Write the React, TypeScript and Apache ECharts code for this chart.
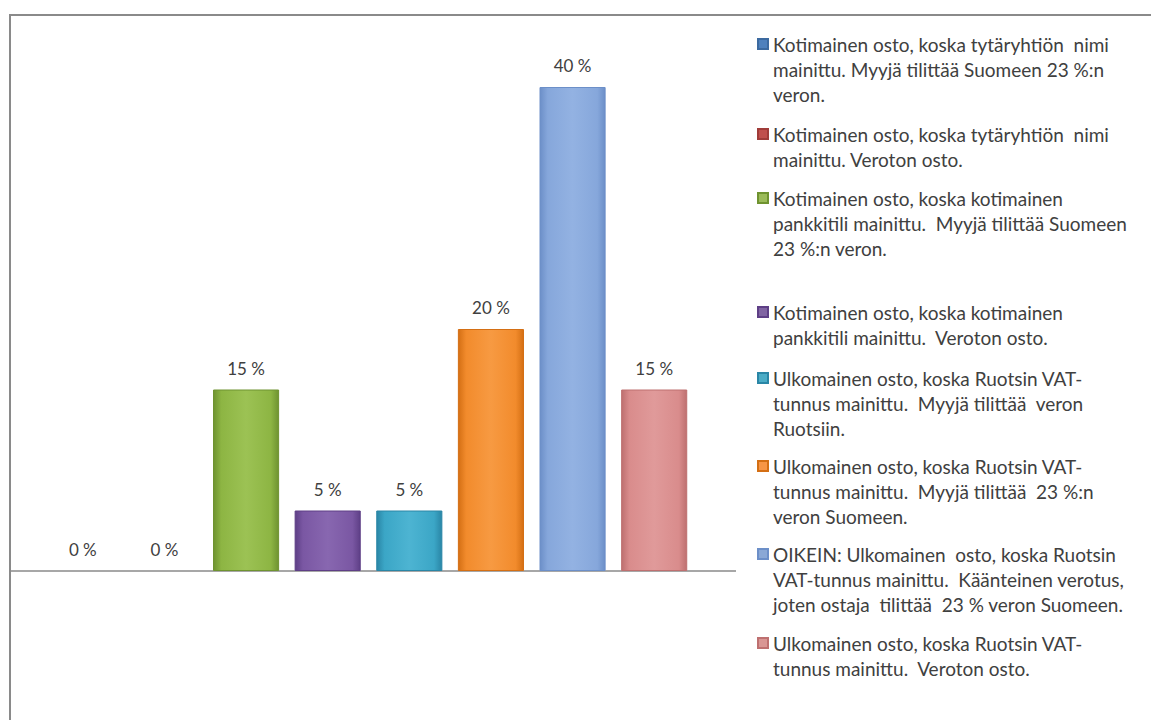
import React, { useEffect, useRef } from "react";
import * as echarts from "echarts";

const categories = [
  "Kotimainen osto, koska tytäryhtiön nimi mainittu. Myyjä tilittää Suomeen 23 %:n veron.",
  "Kotimainen osto, koska tytäryhtiön nimi mainittu. Veroton osto.",
  "Kotimainen osto, koska kotimainen pankkitili mainittu. Myyjä tilittää Suomeen 23 %:n veron.",
  "Kotimainen osto, koska kotimainen pankkitili mainittu. Veroton osto.",
  "Ulkomainen osto, koska Ruotsin VAT-tunnus mainittu. Myyjä tilittää veron Ruotsiin.",
  "Ulkomainen osto, koska Ruotsin VAT-tunnus mainittu. Myyjä tilittää 23 %:n veron Suomeen.",
  "OIKEIN: Ulkomainen osto, koska Ruotsin VAT-tunnus mainittu. Käänteinen verotus, joten ostaja tilittää 23 % veron Suomeen.",
  "Ulkomainen osto, koska Ruotsin VAT-tunnus mainittu. Veroton osto.",
];

const values = [0, 0, 15, 5, 5, 20, 40, 15];

const legendLines = [
  ["Kotimainen osto, koska tytäryhtiön  nimi", "mainittu. Myyjä tilittää Suomeen 23 %:n", "veron."],
  ["Kotimainen osto, koska tytäryhtiön  nimi", "mainittu. Veroton osto."],
  ["Kotimainen osto, koska kotimainen", "pankkitili mainittu.  Myyjä tilittää Suomeen", "23 %:n veron."],
  ["Kotimainen osto, koska kotimainen", "pankkitili mainittu.  Veroton osto."],
  ["Ulkomainen osto, koska Ruotsin VAT-", "tunnus mainittu.  Myyjä tilittää  veron", "Ruotsiin."],
  ["Ulkomainen osto, koska Ruotsin VAT-", "tunnus mainittu.  Myyjä tilittää  23 %:n", "veron Suomeen."],
  ["OIKEIN: Ulkomainen  osto, koska Ruotsin", "VAT-tunnus mainittu.  Käänteinen verotus,", "joten ostaja  tilittää  23 % veron Suomeen."],
  ["Ulkomainen osto, koska Ruotsin VAT-", "tunnus mainittu.  Veroton osto."],
];

const legendFirstLineY = [44, 134, 198, 312, 378, 466, 554, 643];

const legendColors = ["#4F81BD", "#C0504D", "#9BBB59", "#8064A2", "#4BACC6", "#F79646", "#8AA8D6", "#D99694"];
const barMid = ["#4F81BD", "#C0504D", "#8DB543", "#7A57A3", "#3BA6C6", "#F28B2C", "#86A7DB", "#D98C8C"];
const barEdge = ["#3C6AA0", "#A03C39", "#6F9330", "#5E3F86", "#2A86A6", "#D46F14", "#6C8FC8", "#BE7070"];
const barLight = ["#6F98CB", "#D16A67", "#9CC254", "#8867B0", "#4DB4D2", "#F79A42", "#93B2E2", "#E09A9A"];

const FONT = "Lato, 'Open Sans', sans-serif";
const LH = 25;

export default function App() {
  const ref = useRef<HTMLDivElement>(null);

  useEffect(() => {
    if (!ref.current) return;
    const chart = echarts.init(ref.current, undefined, { renderer: "svg" });

    const series = categories.map((name, i) => ({
      type: "bar",
      name,
      stack: "all",
      barCategoryGap: "19%",
      data: values.map((v, j) =>
        j === i ? (v === 0 ? { value: v, itemStyle: { borderWidth: 0 } } : v) : "-"
      ),
      itemStyle: {
        color: new echarts.graphic.LinearGradient(0, 0, 1, 0, [
          { offset: 0, color: barEdge[i] },
          { offset: 0.12, color: barMid[i] },
          { offset: 0.5, color: barLight[i] },
          { offset: 0.88, color: barMid[i] },
          { offset: 1, color: barEdge[i] },
        ]),
        borderColor: barEdge[i],
        borderWidth: 1,
      },
      label: {
        show: true,
        position: "top",
        distance: 13,
        formatter: "{c} %",
        fontSize: 17,
        fontFamily: FONT,
        color: "#404040",
      },
    }));

    const legends = categories.map((name, i) => {
      const n = legendLines[i].length;
      const pad = new Array(n - 1).fill(" ");
      return {
        orient: "vertical",
        left: 757,
        top: legendFirstLineY[i] - ((2 * n - 1) * LH) / 2,
        padding: 0,
        icon: "rect",
        itemWidth: 10,
        itemHeight: 10,
        itemGap: 0,
        selectedMode: false,
        data: [{ name, itemStyle: { color: legendColors[i] } }],
        formatter: () => pad.concat(legendLines[i]).join("\n"),
        textStyle: {
          fontSize: 19,
          fontFamily: FONT,
          color: "#404040",
          lineHeight: LH,
        },
      };
    });

    chart.setOption({
      animation: false,
      backgroundColor: "#ffffff",
      grid: { left: 42, width: 653, top: 87, bottom: 149 },
      xAxis: {
        type: "category",
        data: categories,
        axisLine: { show: false },
        axisTick: { show: false },
        axisLabel: { show: false },
      },
      yAxis: { type: "value", min: 0, max: 40, show: false, splitLine: { show: false } },
      legend: legends,
      series,
    });

    const y0 = chart.convertToPixel({ yAxisIndex: 0 }, 0) as number;
    chart.setOption({
      graphic: [
        { type: "line", shape: { x1: 9, y1: 15, x2: 1151, y2: 15 }, style: { stroke: "#8a8a8a", lineWidth: 2 } },
        { type: "line", shape: { x1: 10, y1: 15, x2: 10, y2: 720 }, style: { stroke: "#8a8a8a", lineWidth: 2 } },
        { type: "line", shape: { x1: 10, y1: y0, x2: 736, y2: y0 }, style: { stroke: "#8a8a8a", lineWidth: 1.5 } },
      ],
    });

    return () => chart.dispose();
  }, []);

  return (
    <div
      ref={ref}
      style={{ position: "fixed", left: 0, top: 0, width: 1151, height: 720, background: "#fff" }}
    />
  );
}
